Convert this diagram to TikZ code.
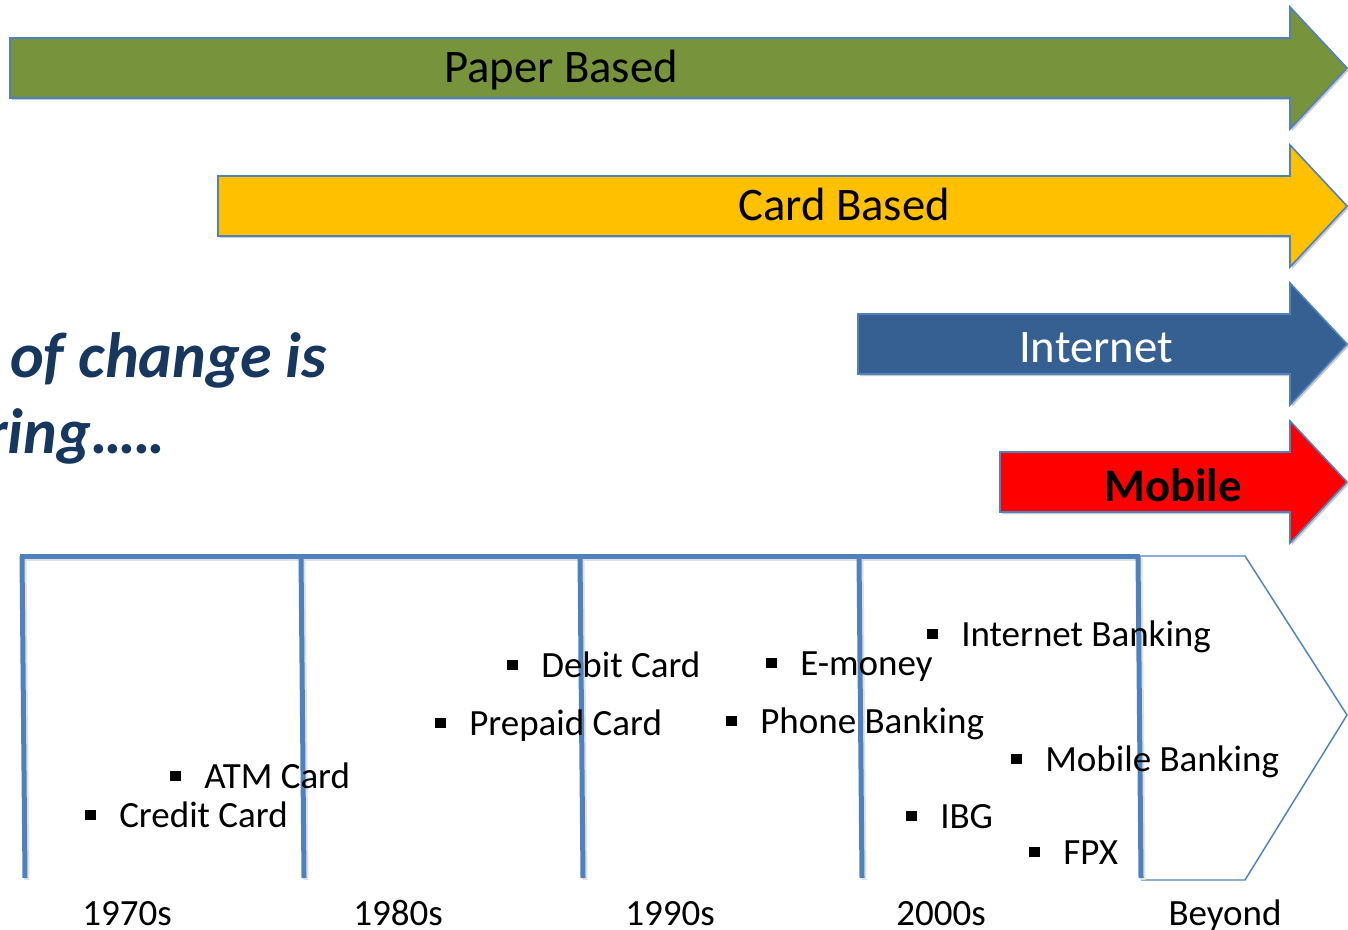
\documentclass[tikz,border=0pt]{standalone}
\usepackage{fontspec}
\setmainfont{Carlito}
\usetikzlibrary{shadows}
\definecolor{paperfill}{HTML}{77933C}
\definecolor{cardfill}{HTML}{FFC000}
\definecolor{inetfill}{HTML}{376092}
\definecolor{mobfill}{HTML}{FF0000}
\definecolor{edgeblue}{HTML}{4F81BD}
\definecolor{titleblue}{HTML}{17375E}
% square bullet used in front of each list item
\newcommand\sqbullet{\makebox[25.5pt][l]{\rule[5pt]{8pt}{8pt}}}
% tightly set trailing dots
\newcommand\tightdots{.\kern-2pt.\kern-2pt.\kern-2pt.\kern-2pt.}
% wide block arrow: left x, centre y, fill colour
\newcommand\trackarrow[3]{%
  \draw[arrowline, fill=#3]
    (#1,#2-30) -- (1290,#2-30) -- (1290,#2-61) -- (1347,#2)
    -- (1290,#2+61) -- (1290,#2+30) -- (#1,#2+30) -- cycle;}
\begin{document}
\begin{tikzpicture}[x=0.75pt,y=-0.75pt,
  arrowline/.style={draw=edgeblue, line width=1.2pt, line join=miter,
    drop shadow={shadow xshift=1.5pt, shadow yshift=-1.5pt, opacity=.35, fill=black!60}},
  bandlabel/.style={anchor=base, inner sep=0, font=\fontsize{35}{42}\selectfont},
  heading/.style={anchor=base west, inner sep=0, text=titleblue,
    font=\fontsize{48}{56}\selectfont\bfseries\itshape},
  timebar/.style={draw=edgeblue, line width=3.75pt},
  timeshadow/.style={draw=black!12, line width=3.75pt},
  item/.style={anchor=base west, inner sep=0, font=\fontsize{27.75}{33}\selectfont},
  decade/.style={anchor=base, inner sep=0, font=\fontsize{27.75}{33}\selectfont}]
\useasboundingbox (0,0) rectangle (1348,930);

% channel arrows
\trackarrow{10}{68}{paperfill}
\trackarrow{218}{206}{cardfill}
\trackarrow{858}{344}{inetfill}
\trackarrow{1000}{482}{mobfill}
\node[bandlabel] (paper) at (561,83) {Paper Based};
\node[bandlabel] (card) at (844,221) {Card Based};
\node[bandlabel, text=white] (inet) at (1096,362) {Internet};
\node[bandlabel, font=\fontsize{35}{42}\selectfont\bfseries] (mobile) at (1173,501) {Mobile};

% heading
\node[heading] (head1) at (10,378) {of change is};
\node[heading] (head2) at (-15,453) {ring\tightdots};

% "Beyond" pentagon
\draw[edgeblue, line width=1.1pt, line join=miter]
  (1139,556) -- (1245,556) -- (1347,715) -- (1245,880) -- (1141,880);

% timeline frame with soft shadow
\foreach \t/\b in {22/25, 301/304, 580/583, 859/862, 1138/1141}{
  \draw[timeshadow] (\t+2,558) -- (\b+2,880);
}
\draw[timeshadow] (22,558) -- (1141,558);
\draw[timebar] (20,556) -- (1140,556);
\foreach \t/\b in {22/25, 301/304, 580/583, 859/862, 1138/1141}{
  \draw[timebar] (\t,556) -- (\b,878);
}

% milestones
\node[item] (credit) at (85,827) {\sqbullet Credit Card};
\node[item] (atm) at (170,788) {\sqbullet ATM Card};
\node[item] (debit) at (507,677) {\sqbullet Debit Card};
\node[item] (prepaid) at (435,735) {\sqbullet Prepaid Card};
\node[item] (emoney) at (766,675) {\sqbullet E-money};
\node[item] (phone) at (726,733) {\sqbullet Phone Banking};
\node[item] (ibank) at (927,646) {\sqbullet Internet Banking};
\node[item] (mbank) at (1011,771) {\sqbullet Mobile Banking};
\node[item] (ibg) at (906,828) {\sqbullet IBG};
\node[item] (fpx) at (1029,864) {\sqbullet FPX};

% decades
\node[decade] (d70) at (127,925) {1970s};
\node[decade] (d80) at (398,925) {1980s};
\node[decade] (d90) at (670,925) {1990s};
\node[decade] (d00) at (941,925) {2000s};
\node[decade] (beyond) at (1225,925) {Beyond};
\end{tikzpicture}
\end{document}
